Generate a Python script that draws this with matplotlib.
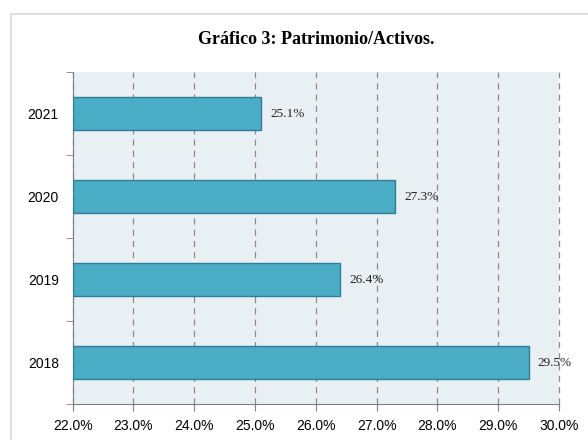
import matplotlib
matplotlib.use("Agg")
import matplotlib.pyplot as plt
from matplotlib.patches import Rectangle

years = ["2018", "2019", "2020", "2021"]
ratios = [29.5, 26.4, 27.3, 25.1]
x_ticks = [22.0, 23.0, 24.0, 25.0, 26.0, 27.0, 28.0, 29.0, 30.0]

BAR, EDGE, PANEL = "#4bacc6", "#2f7e95", "#e9f0f4"

fig = plt.figure(figsize=(5.88, 4.40), dpi=100)
# light outer frame (left/top edges visible, rest clipped)
fig.patches.append(Rectangle((11 / 588, -0.1), 1.2, 1 - 14 / 440 + 0.1,
                             transform=fig.transFigure, fill=False,
                             edgecolor="#d9d9d9", lw=1.2))

ax = fig.add_axes([72.7 / 588, 1 - 404 / 440, (559 - 72.7) / 588, (404 - 72) / 440])
ax.set_facecolor(PANEL)

pos = list(range(len(years)))
ax.barh(pos, [r - 22.0 for r in ratios], left=22.0, height=0.4,
        color=BAR, edgecolor=EDGE, lw=1.0, zorder=3)
for p, r in zip(pos, ratios):
    ax.text(r + 0.15, p, f"{r:.1f}%", va="center", ha="left",
            family="Liberation Serif", fontsize=9.5, color="#222222", zorder=4)

ax.set_xlim(22.0, 30.0)
ax.set_ylim(-0.5, 3.5)
ax.set_xticks(x_ticks)
ax.set_xticklabels([f"{t:.1f}%" for t in x_ticks], family="Liberation Sans",
                   fontsize=10)
ax.set_yticks(pos)
ax.set_yticklabels(years, family="Liberation Sans", fontsize=10)
ax.set_yticks([-0.5, 0.5, 1.5, 2.5, 3.5], minor=True)
ax.tick_params(axis="y", which="major", length=0, pad=10)
ax.tick_params(axis="y", which="minor", length=5, color="#7f7f7f")
ax.tick_params(axis="x", length=5, color="#7f7f7f", pad=6)

ax.grid(axis="x", color="#8c8c8c", ls=(0, (5, 4)), lw=0.9, zorder=1,
        clip_on=False)
ax.set_axisbelow(True)
for s in ("top", "right"):
    ax.spines[s].set_visible(False)
for s in ("left", "bottom"):
    ax.spines[s].set_color("#7f7f7f")

fig.text(316 / 588, 1 - 40 / 440, "Gráfico 3: Patrimonio/Activos.",
         ha="center", va="center", family="Liberation Serif",
         fontweight="bold", fontsize=13)

fig.savefig("out.png", dpi=100)
